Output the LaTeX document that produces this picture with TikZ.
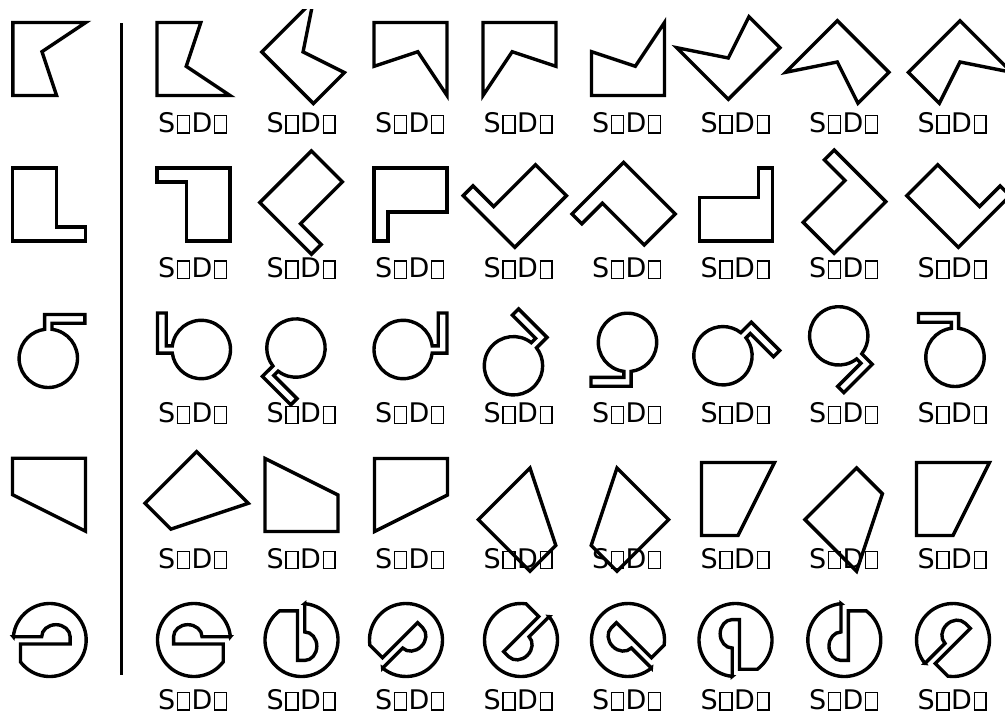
\documentclass[tikz,border=0pt]{standalone}
\usepackage{fontspec}
\setmainfont{DejaVu Sans}
\newcommand\shA{\draw[shp] (-0.5,0.5) -- (0.5,0.5) -- (-0.1,0.1) -- (0.1,-0.5) -- (-0.5,-0.5) -- cycle;}
\newcommand\shB{\draw[shp] (-0.5,0.5) -- (0.1,0.5) -- (0.1,-0.31) -- (0.5,-0.31) -- (0.5,-0.5) -- (-0.5,-0.5) -- cycle;}
\newcommand\shC{\draw[shp] (-0.05,0.5) -- (0.5,0.5) -- (0.5,0.38) -- (0.05,0.38) -- (0.05,0.2969) arc[start angle=82.82, end angle=-262.82, radius=0.4] -- cycle;}
\newcommand\shD{\draw[shp] (-0.5,0.5) -- (0.5,0.5) -- (0.5,-0.5) -- (-0.5,0) -- cycle;}
\newcommand\shE{\draw[shp] (-0.498,0.045) -- (-0.11,0.045) arc[start angle=180, end angle=0, x radius=0.195, y radius=0.165] -- (0.28,-0.055) -- (-0.4,-0.055) -- (-0.4,-0.3) arc[start angle=216.87, end angle=534.84, radius=0.5] -- cycle;}
\newcommand\cell[4]{\begin{scope}[shift={(#1,-#2)}, cm={#3,(0,0)}, scale=73] #4 \end{scope}}
\newcommand\tofu{\kern1.6pt{\fboxsep=0pt\fboxrule=1.3pt\fbox{\vrule width 0pt height 16pt\hspace{10.5pt}}}\kern1.6pt}
\begin{document}
\begin{tikzpicture}[x=1pt,y=1pt,
  shp/.style={line width=3.4pt, line join=miter},
  sep/.style={line width=3pt},
  lbl/.style={font=\fontsize{27}{30}\selectfont, inner sep=0pt, anchor=center}]
\useasboundingbox (0,0) rectangle (1005,-715);
\fill[white] (0,0) rectangle (1005,-715);
% left column (originals)
\cell{49.3}{59}{1,0,0,1}{\shA}
\cell{49}{204.3}{1,0,0,1}{\shB}
\cell{48.3}{351}{1,0,0,1}{\shC}
\cell{49}{494.7}{1,0,0,1}{\shD}
\cell{49.7}{640}{1,0,0,1}{\shE}
% separator
\coordinate (sepT) at (121.7,-23);
\coordinate (sepB) at (121.7,-675);
\draw[sep] (sepT) -- (sepB);
% row 1
\cell{193.5}{59}{1,0,0,-1}{\shA}
\begin{scope}\clip (240,-9) rectangle (380,-130);
\cell{313.4}{51.9}{0.7071,0.7071,-0.7071,0.7071}{\shA}
\end{scope}
\cell{410.5}{59}{0,-1,1,0}{\shA}
\cell{519.5}{59}{0,-1,-1,0}{\shA}
\cell{628}{59}{0,1,1,0}{\shA}
\cell{728.3}{47.7}{-0.7071,0.7071,-0.7071,-0.7071}{\shA}
\cell{837.3}{72.3}{-0.7071,-0.7071,-0.7071,0.7071}{\shA}
\cell{960}{72.3}{0.7071,-0.7071,0.7071,0.7071}{\shA}
% row 2
\cell{193.5}{204.5}{-1,0,0,-1}{\shB}
\cell{311.4}{202.6}{0.7071,-0.7071,0.7071,0.7071}{\shB}
\cell{410.5}{204.5}{0,-1,1,0}{\shB}
\cell{514.8}{195.7}{-0.7071,0.7071,0.7071,0.7071}{\shB}
\cell{623.6}{214}{-0.7071,-0.7071,0.7071,-0.7071}{\shB}
\cell{736}{204.5}{0,1,-1,0}{\shB}
\cell{834.2}{201.7}{-0.7071,0.7071,-0.7071,-0.7071}{\shB}
\cell{958.4}{195.7}{0.7071,0.7071,-0.7071,0.7071}{\shB}
% row 3
\cell{194}{349.5}{0,1,-1,0}{\shC}
\cell{290.8}{353.2}{0.7071,-0.7071,-0.7071,-0.7071}{\shC}
\cell{410.5}{349.5}{0,1,1,0}{\shC}
\cell{518.6}{360.6}{-0.7071,0.7071,0.7071,0.7071}{\shC}
\cell{627.5}{349.7}{-1,0,0,-1}{\shC}
\cell{728.1}{350.6}{0.7071,-0.7071,0.7071,0.7071}{\shC}
\cell{843.9}{341}{-0.7071,-0.7071,0.7071,-0.7071}{\shC}
\cell{955}{350}{-1,0,0,1}{\shC}
% row 4
\cell{196.6}{503.3}{0.7071,0.7071,-0.7071,0.7071}{\shD}
\cell{301.5}{495}{-1,0,0,-1}{\shD}
\cell{411}{495}{-1,0,0,1}{\shD}
\cell{530}{519.6}{-0.7071,0.7071,-0.7071,-0.7071}{\shD}
\cell{617}{519.6}{0.7071,0.7071,0.7071,-0.7071}{\shD}
\cell{738}{499}{0,1,-1,0}{\shD}
\cell{856.6}{519.6}{-0.7071,-0.7071,-0.7071,0.7071}{\shD}
\cell{953}{499}{0,1,-1,0}{\shD}
% row 5
\cell{194}{640}{-1,0,0,1}{\shE}
\cell{301.5}{640}{0,-1,1,0}{\shE}
\cell{406}{640}{0.7071,0.7071,0.7071,-0.7071}{\shE}
\cell{521}{640}{-0.7071,-0.7071,0.7071,-0.7071}{\shE}
\cell{628}{640}{-0.7071,0.7071,-0.7071,-0.7071}{\shE}
\cell{735.5}{640}{0,1,-1,0}{\shE}
\cell{844.3}{640}{0,-1,-1,0}{\shE}
\cell{953}{640}{0.7071,0.7071,-0.7071,0.7071}{\shE}
% labels
\foreach \r/\ly in {1/123,2/268.25,3/413.5,4/558.75,5/700}{
  \foreach \c/\lx in {1/193.5,2/302,3/410.5,4/519,5/627.5,6/736,7/844.5,8/953}{
    \node[lbl] (lab-\r-\c) at (\lx,-\ly) {S\tofu D\tofu};
  }
}
\end{tikzpicture}
\end{document}
